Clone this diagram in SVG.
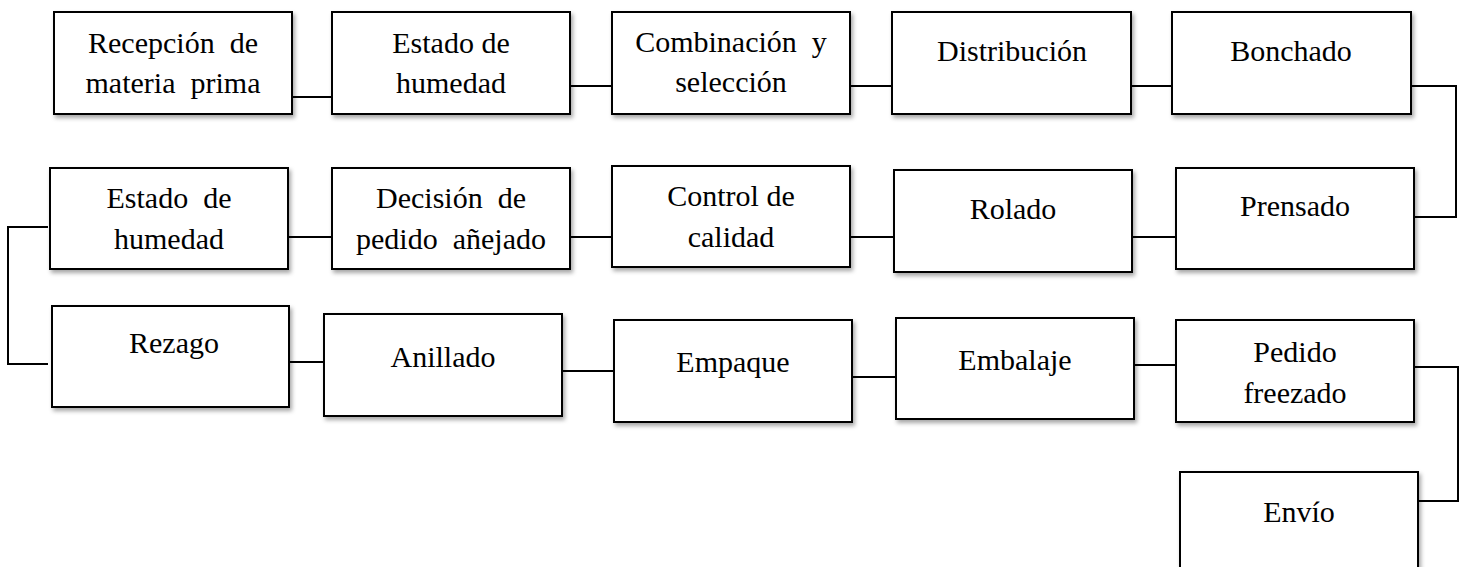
<svg xmlns="http://www.w3.org/2000/svg" width="1461" height="567" viewBox="0 0 1461 567">
<defs>
<filter id="sh" x="-10%" y="-10%" width="125%" height="130%">
<feDropShadow dx="2" dy="3" stdDeviation="2" flood-color="#000" flood-opacity="0.35"/>
</filter>
</defs>
<style>
.box{fill:#fff;stroke:#000;stroke-width:2;filter:url(#sh)}
.t{font-family:"Liberation Serif","Times New Roman",serif;font-size:30px;fill:#000;text-anchor:middle;white-space:pre}
.c{fill:none;stroke:#000;stroke-width:2}
</style>
<rect width="1461" height="567" fill="#fff"/>
<g id="connectors">
<line class="c" x1="292" y1="97" x2="332" y2="97"/>
<line class="c" x1="570" y1="86" x2="612" y2="86"/>
<line class="c" x1="850" y1="86" x2="892" y2="86"/>
<line class="c" x1="1131" y1="86" x2="1172" y2="86"/>
<polyline class="c" points="1411,86 1456,86 1456,217 1414,217"/>
<line class="c" x1="1132" y1="237" x2="1176" y2="237"/>
<line class="c" x1="850" y1="237" x2="894" y2="237"/>
<line class="c" x1="570" y1="237" x2="612" y2="237"/>
<line class="c" x1="288" y1="237" x2="332" y2="237"/>
<polyline class="c" points="48,227 8,227 8,364 48,364"/>
<line class="c" x1="289" y1="362" x2="324" y2="362"/>
<line class="c" x1="562" y1="371" x2="614" y2="371"/>
<line class="c" x1="852" y1="377" x2="896" y2="377"/>
<line class="c" x1="1134" y1="365" x2="1176" y2="365"/>
<polyline class="c" points="1414,367 1458,367 1458,501 1418,501"/>
</g>
<g id="n1"><rect class="box" x="54" y="12" width="238" height="102"/><text class="t" x="173" y="53" xml:space="preserve">Recepción  de</text><text class="t" x="173" y="93" xml:space="preserve">materia  prima</text></g>
<g id="n2"><rect class="box" x="332" y="12" width="238" height="102"/><text class="t" x="451" y="53">Estado de</text><text class="t" x="451" y="93">humedad</text></g>
<g id="n3"><rect class="box" x="612" y="12" width="238" height="102"/><text class="t" x="731" y="52" xml:space="preserve">Combinación  y</text><text class="t" x="731" y="92">selección</text></g>
<g id="n4"><rect class="box" x="892" y="12" width="239" height="102"/><text class="t" x="1012" y="61">Distribución</text></g>
<g id="n5"><rect class="box" x="1172" y="12" width="239" height="102"/><text class="t" x="1291" y="61">Bonchado</text></g>
<g id="n6"><rect class="box" x="1176" y="168" width="238" height="101"/><text class="t" x="1295" y="216">Prensado</text></g>
<g id="n7"><rect class="box" x="894" y="170" width="238" height="102"/><text class="t" x="1013" y="219">Rolado</text></g>
<g id="n8"><rect class="box" x="612" y="166" width="238" height="101"/><text class="t" x="731" y="206">Control de</text><text class="t" x="731" y="247">calidad</text></g>
<g id="n9"><rect class="box" x="332" y="168" width="238" height="101"/><text class="t" x="451" y="208" xml:space="preserve">Decisión  de</text><text class="t" x="451" y="249" xml:space="preserve">pedido  añejado</text></g>
<g id="n10"><rect class="box" x="50" y="168" width="238" height="101"/><text class="t" x="169" y="208" xml:space="preserve">Estado  de</text><text class="t" x="169" y="249">humedad</text></g>
<g id="n11"><rect class="box" x="52" y="306" width="237" height="101"/><text class="t" x="174" y="353">Rezago</text></g>
<g id="n12"><rect class="box" x="324" y="314" width="238" height="102"/><text class="t" x="443" y="367">Anillado</text></g>
<g id="n13"><rect class="box" x="614" y="320" width="238" height="102"/><text class="t" x="733" y="372">Empaque</text></g>
<g id="n14"><rect class="box" x="896" y="318" width="238" height="101"/><text class="t" x="1015" y="370">Embalaje</text></g>
<g id="n15"><rect class="box" x="1176" y="320" width="238" height="102"/><text class="t" x="1295" y="362">Pedido</text><text class="t" x="1295" y="403">freezado</text></g>
<g id="n16"><rect class="box" x="1180" y="472" width="238" height="102"/><text class="t" x="1299" y="522">Envío</text></g>
</svg>
